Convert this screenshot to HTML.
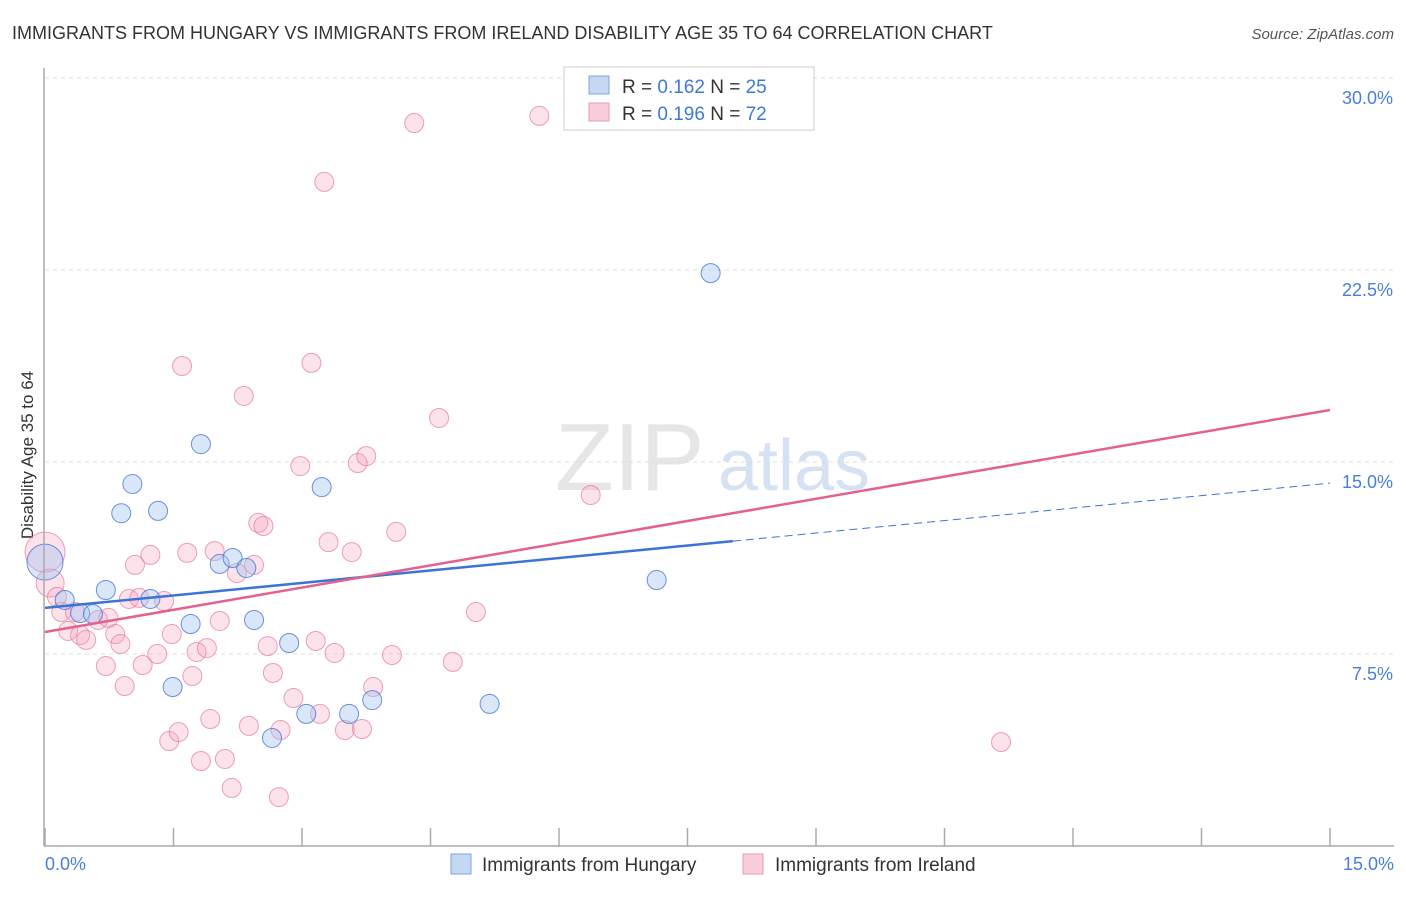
<!DOCTYPE html>
<html><head><meta charset="utf-8"><style>
body{margin:0;background:#fff;font-family:"Liberation Sans",sans-serif}
svg text{font-family:"Liberation Sans",sans-serif}
</style></head><body>
<svg id="c" width="1406" height="892" xmlns="http://www.w3.org/2000/svg">
<text x="12" y="39" font-size="18" fill="#333">IMMIGRANTS FROM HUNGARY VS IMMIGRANTS FROM IRELAND DISABILITY AGE 35 TO 64 CORRELATION CHART</text>
<text x="1394" y="39" font-size="15" fill="#555" font-style="italic" text-anchor="end">Source: ZipAtlas.com</text>
<text x="555" y="490" font-size="96" fill="#e6e6e6" font-family="Liberation Serif">ZIP</text>
<text x="718" y="490" font-size="72" fill="#d4e2f4">atlas</text>
<text transform="translate(33,455) rotate(-90)" font-size="17" fill="#333" text-anchor="middle">Disability Age 35 to 64</text>
<g id="grid"></g><g id="pts"></g><g id="lines"></g>
<line x1="44" y1="68" x2="44" y2="846" stroke="#aaa" stroke-width="1.5"/>
<line x1="44" y1="846" x2="1394" y2="846" stroke="#aaa" stroke-width="1.5"/>
<text x="45" y="870" font-size="18" fill="#4a7fd6">0.0%</text>
<text x="1394" y="870" font-size="18" fill="#4a7fd6" text-anchor="end">15.0%</text>
<g>
<rect x="564" y="67" width="250" height="63" fill="#fff" stroke="#ccc"/>
<rect x="589" y="76" width="20" height="18" fill="#c5d8f3" stroke="#7ea3dd"/>
<rect x="589" y="103" width="20" height="18" fill="#f8cddb" stroke="#e99ab5"/>
<text x="622" y="93" font-size="19" fill="#333">R = <tspan fill="#3f79d6">0.162</tspan>   N = <tspan fill="#3f79d6">25</tspan></text>
<text x="622" y="120" font-size="19" fill="#333">R = <tspan fill="#3f79d6">0.196</tspan>   N = <tspan fill="#3f79d6">72</tspan></text>
</g>
<g>
<rect x="451" y="854" width="20" height="20" fill="#c5d8f3" stroke="#7ea3dd"/>
<text x="482" y="871" font-size="19" fill="#333">Immigrants from Hungary</text>
<rect x="743" y="854" width="20" height="20" fill="#f8cddb" stroke="#e99ab5"/>
<text x="775" y="871" font-size="19" fill="#333">Immigrants from Ireland</text>
</g>
</svg>
<script>
const yTicks=[7.5,15,22.5,30];
const xTicks=[0,1.5,3,4.5,6,7.5,9,10.5,12,13.5,15];
const hungaryX=[0,0.23,0.41,0.56,0.71,0.89,1.02,1.23,1.32,1.49,1.70,1.82,2.04,2.19,2.35,2.44,2.65,2.85,3.05,3.23,3.55,3.82,5.19,7.14,7.77];
const hungaryY=[11.09,9.61,9.10,9.06,10.0,13.0,14.14,9.65,13.09,6.21,8.67,15.70,11.02,11.25,10.86,8.83,4.22,7.93,5.16,14.02,5.16,5.70,5.55,10.39,22.38];
const irelandX=[0,0.06,0.14,0.19,0.27,0.35,0.41,0.48,0.62,0.74,0.71,0.82,0.88,0.93,1.05,0.98,1.10,1.23,1.14,1.31,1.39,1.48,1.45,1.56,1.60,1.66,1.72,1.77,1.82,1.89,1.93,1.98,2.04,2.10,2.18,2.24,2.32,2.38,2.44,2.49,2.55,2.60,2.66,2.73,2.75,2.90,2.98,3.11,3.16,3.21,3.26,3.31,3.38,3.50,3.58,3.65,3.70,3.75,3.83,4.05,4.10,4.31,4.60,4.76,5.03,5.77,6.37,11.16];
const irelandY=[11.48,10.27,9.73,9.14,8.40,9.14,8.24,8.05,8.83,8.91,7.03,8.28,7.89,6.25,10.98,9.65,9.69,11.37,7.07,7.50,9.57,8.28,4.10,4.45,18.75,11.45,6.64,7.58,3.32,7.73,4.96,11.52,8.79,3.40,2.27,10.66,17.58,4.69,10.98,12.62,12.5,7.81,6.76,1.91,4.53,5.78,14.84,18.87,8.01,5.16,25.94,11.87,7.54,4.53,11.48,14.96,4.57,15.23,6.21,7.46,12.27,28.24,16.72,7.19,9.14,28.52,13.71,4.06];
const hungaryTrend=[9.30,0.325];
const irelandTrend=[8.36,0.578];
const hungarySolidEnd=8.03;
const X=v=>45+v*(1330-45)/15, Y=v=>846-v*25.6;
const NS='http://www.w3.org/2000/svg';
function mk(t,a,p){const e=document.createElementNS(NS,t);for(const k in a)e.setAttribute(k,a[k]);p.appendChild(e);return e;}
const grid=document.getElementById('grid'),pts=document.getElementById('pts'),lines=document.getElementById('lines');
yTicks.forEach(t=>{
 const l=mk('line',{x1:45,x2:1394,y1:Y(t),y2:Y(t),stroke:'#ddd','stroke-dasharray':'4 4'},grid);
 
 
 const tx=mk('text',{x:1393,y:Y(t)+26,'font-size':18,fill:'#4a7fd6','text-anchor':'end'},grid);
 tx.textContent=t.toFixed(1)+'%';
 
 
});
xTicks.forEach(t=>{
 const l=mk('line',{x1:X(t),x2:X(t),y1:828,y2:846,stroke:'#aaa','stroke-width':1.5},grid);
 
 
});
irelandX.forEach((x,i)=>{
 const r=i==0?20:(i==1?14:9.5);
 const c=mk('circle',{cx:X(x),cy:Y(irelandY[i]),r:r,fill:'rgba(244,160,188,0.3)',stroke:'rgba(230,120,160,0.7)','stroke-width':1},pts);
 
 
});
hungaryX.forEach((x,i)=>{
 const r=i==0?18:9.5;
 const c=mk('circle',{cx:X(x),cy:Y(hungaryY[i]),r:r,fill:'rgba(160,195,240,0.4)',stroke:'rgba(70,120,210,0.8)','stroke-width':1},pts);
 
 
});
const hl=mk('line',{x1:X(0),y1:Y(hungaryTrend[0]),x2:X(hungarySolidEnd),y2:Y(hungaryTrend[0]+hungaryTrend[1]*hungarySolidEnd),stroke:'#3a74d6','stroke-width':2.5},lines);


const hd=mk('line',{x1:X(hungarySolidEnd),y1:Y(hungaryTrend[0]+hungaryTrend[1]*hungarySolidEnd),x2:X(15),y2:Y(hungaryTrend[0]+hungaryTrend[1]*15),stroke:'#3a74d6','stroke-width':1,'stroke-dasharray':'8 5'},lines);


const il=mk('line',{x1:X(0),y1:Y(irelandTrend[0]),x2:X(15),y2:Y(irelandTrend[0]+irelandTrend[1]*15),stroke:'#e4608f','stroke-width':2.5},lines);


</script>
</body></html>
